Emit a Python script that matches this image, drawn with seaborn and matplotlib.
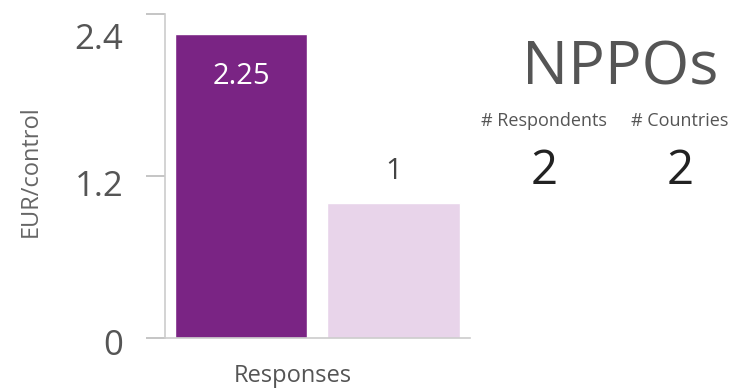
import pandas as pd
import matplotlib.pyplot as plt
import matplotlib.transforms as mtransforms
import seaborn as sns

# Data
categories = ['Response 1', 'Response 2']
values = [2.25, 1]
bar_colors = ['#7a2484', '#e8d4ea']
yticks = [0, 1.2, 2.4]
ytick_labels = ['0', '1.2', '2.4']
group_name = 'NPPOs'
stat_labels = ['# Respondents', '# Countries']
stat_values = [2, 2]

df = pd.DataFrame({'response': categories, 'value': values})

sns.set_style('white')
plt.rcParams['font.family'] = ['Open Sans', 'DejaVu Sans']

fig = plt.figure(figsize=(7.31, 3.89), dpi=100)
ax = fig.add_axes([0.2257, 0.131, 0.417, 0.833])

sns.barplot(data=df, x='response', y='value', hue='response',
            palette=bar_colors, width=0.87, legend=False, ax=ax,
            saturation=1)

ax.set_ylim(0, 2.4)
ax.set_yticks(yticks)
ax.set_yticklabels(ytick_labels, fontsize=25, color='#555555')
ax.set_xticks([])
ax.tick_params(axis='y', left=True, length=14, width=1.2, color='#bbbbbb', pad=16)

# tick labels sit a little below their ticks in the reference
shifts = [-3, -5, -16]
for lab, dy in zip(ax.get_yticklabels(), shifts):
    lab.set_transform(lab.get_transform() +
                      mtransforms.ScaledTranslation(0, dy / 72, fig.dpi_scale_trans))

for s in ['top', 'right']:
    ax.spines[s].set_visible(False)
for s in ['left', 'bottom']:
    ax.spines[s].set_color('#cccccc')
    ax.spines[s].set_linewidth(1.2)

ax.set_ylabel('EUR/control', fontsize=17, color='#666666')
ax.yaxis.set_label_coords(-0.40, 0.515)
ax.set_xlabel('Responses', fontsize=17, color='#555555')
ax.xaxis.set_label_coords(0.42, -0.08)

# value labels
ax.text(0, values[0] - 0.31, f'{values[0]:g}', ha='center', va='center',
        fontsize=21, color='white')
ax.text(1, values[1] + 0.23, f'{values[1]:g}', ha='center', va='center',
        fontsize=21, color='#444444')

# side panel text
fig.text(0.848, 0.825, group_name, ha='center', va='center',
         fontsize=44, color='#555555')
for i, (lab, val) in enumerate(zip(stat_labels, stat_values)):
    xpos = [0.744, 0.930][i]
    fig.text(xpos, 0.69, lab, ha='center', va='center',
             fontsize=13, color='#555555')
    fig.text(xpos, 0.56, str(val), ha='center', va='center',
             fontsize=34, color='#222222')

plt.savefig('out.png', dpi=100)
plt.close()
